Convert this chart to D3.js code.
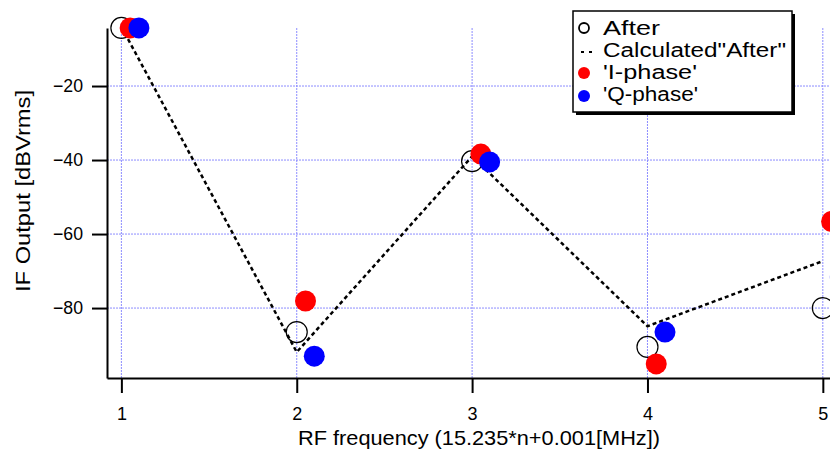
<!DOCTYPE html>
<html>
<head>
<meta charset="utf-8">
<script src="https://cdn.jsdelivr.net/npm/d3@7"></script>
<style>
  body { margin: 0; background: #fff; }
  svg { display: block; font-family: "Liberation Sans", Arial, sans-serif; }
</style>
</head>
<body>
<svg id="chart" width="830" height="452"></svg>
<script>
// values
var harmonics = [1, 2, 3, 4, 5];
var afterVals = [-4.3, -86.5, -40.3, -90.5, -80.0];
var calcAfter = [-4.0, -91.9, -39.0, -84.9, -67.3];
var iPhase = [-4.3, -78.1, -38.4, -95.1, -56.6];
var qPhase = [-4.3, -93.0, -40.5, -86.5, -71.6];
var yTicks = [-20, -40, -60, -80];
var legendNames = ["After", "Calculated\"After\"", "'I-phase'", "'Q-phase'"];

var svg = d3.select("#chart");

var x = d3.scaleLinear()
  .domain([0.918, 5.2])
  .range([107, 857.9]);

var y = d3.scaleLinear()
  .domain([-98.9, -4.32])
  .range([378, 28]);

// grid
var grid = svg.append("g")
  .attr("stroke", "#8c8cff")
  .attr("stroke-width", 1)
  .attr("stroke-dasharray", "2,1");

grid.selectAll("line.v")
  .data(harmonics)
  .enter().append("line")
    .attr("x1", function(d) { return x(d); })
    .attr("x2", function(d) { return x(d); })
    .attr("y1", y(-4.32))
    .attr("y2", y(-98.9));

grid.selectAll("line.h")
  .data(yTicks)
  .enter().append("line")
    .attr("x1", x(0.918))
    .attr("x2", x(5.2))
    .attr("y1", function(d) { return y(d); })
    .attr("y2", function(d) { return y(d); });

// axes
var xAxis = svg.append("g")
  .attr("transform", "translate(0," + y(-98.9) + ")")
  .call(d3.axisBottom(x).tickValues(harmonics).tickFormat(d3.format("d"))
    .tickSizeInner(15).tickSizeOuter(0).tickPadding(14));

var yAxis = svg.append("g")
  .attr("transform", "translate(" + x(0.918) + ",0)")
  .call(d3.axisLeft(y).tickValues(yTicks)
    .tickSizeInner(15).tickSizeOuter(0).tickPadding(9));

[xAxis, yAxis].forEach(function(g) {
  g.select(".domain").attr("stroke", "#000").attr("stroke-width", 2);
  g.selectAll(".tick line").attr("stroke", "#000").attr("stroke-width", 2);
  g.selectAll(".tick text")
    .attr("fill", "#000")
    .style("font-size", "18px")
    .style("font-family", "'Liberation Sans', Arial, sans-serif");
});
yAxis.selectAll(".tick text")
  .attr("textLength", 30)
  .attr("lengthAdjust", "spacingAndGlyphs");

// calculated line
var line = d3.line()
  .x(function(d, i) { return x(harmonics[i]); })
  .y(function(d) { return y(d); });

svg.append("path")
  .datum(calcAfter)
  .attr("d", line)
  .attr("fill", "none")
  .attr("stroke", "#000")
  .attr("stroke-width", 2.5)
  .attr("stroke-dasharray", "4,3");

// markers
svg.selectAll("circle.after")
  .data(afterVals)
  .enter().append("circle")
    .attr("cx", function(d, i) { return x(harmonics[i]); })
    .attr("cy", function(d) { return y(d); })
    .attr("r", 10.5)
    .attr("fill", "none")
    .attr("stroke", "#000")
    .attr("stroke-width", 1.2);

svg.selectAll("circle.iph")
  .data(iPhase)
  .enter().append("circle")
    .attr("cx", function(d, i) { return x(harmonics[i] + 0.05); })
    .attr("cy", function(d) { return y(d); })
    .attr("r", 10.5)
    .attr("fill", "#ff0000");

svg.selectAll("circle.qph")
  .data(qPhase)
  .enter().append("circle")
    .attr("cx", function(d, i) { return x(harmonics[i] + 0.1); })
    .attr("cy", function(d) { return y(d); })
    .attr("r", 10.5)
    .attr("fill", "#0000ff");

// axis titles
svg.append("text")
  .attr("x", 298)
  .attr("y", 445)
  .attr("textLength", 362)
  .attr("lengthAdjust", "spacingAndGlyphs")
  .style("font-size", "21px")
  .text("RF frequency (15.235*n+0.001[MHz])");

svg.append("text")
  .attr("transform", "translate(30,292) rotate(-90)")
  .attr("textLength", 202)
  .attr("lengthAdjust", "spacingAndGlyphs")
  .style("font-size", "21px")
  .text("IF Output [dBVrms]");

// legend
var legend = svg.append("g");
legend.append("rect")
  .attr("x", 576).attr("y", 14)
  .attr("width", 219).attr("height", 101)
  .attr("fill", "#000");
legend.append("rect")
  .attr("x", 573).attr("y", 11)
  .attr("width", 219).attr("height", 101)
  .attr("fill", "#fff")
  .attr("stroke", "#000")
  .attr("stroke-width", 1.5);

var legendWidths = [57, 183, 94, 95];
legend.selectAll("text")
  .data(legendNames)
  .enter().append("text")
    .attr("x", 603)
    .attr("y", function(d, i) { return 35 + i * 22; })
    .attr("textLength", function(d, i) { return legendWidths[i]; })
    .attr("lengthAdjust", "spacingAndGlyphs")
    .style("font-size", "20px")
    .text(function(d) { return d; });

legend.append("circle")
  .attr("cx", 584).attr("cy", 28).attr("r", 5)
  .attr("fill", "none").attr("stroke", "#000").attr("stroke-width", 1.8);
legend.append("line")
  .attr("x1", 581).attr("x2", 594).attr("y1", 52).attr("y2", 52)
  .attr("stroke", "#000").attr("stroke-width", 2)
  .attr("stroke-dasharray", "3,5");
legend.append("circle")
  .attr("cx", 584).attr("cy", 73).attr("r", 6).attr("fill", "#ff0000");
legend.append("circle")
  .attr("cx", 584).attr("cy", 96).attr("r", 6).attr("fill", "#0000ff");
</script>
</body>
</html>
